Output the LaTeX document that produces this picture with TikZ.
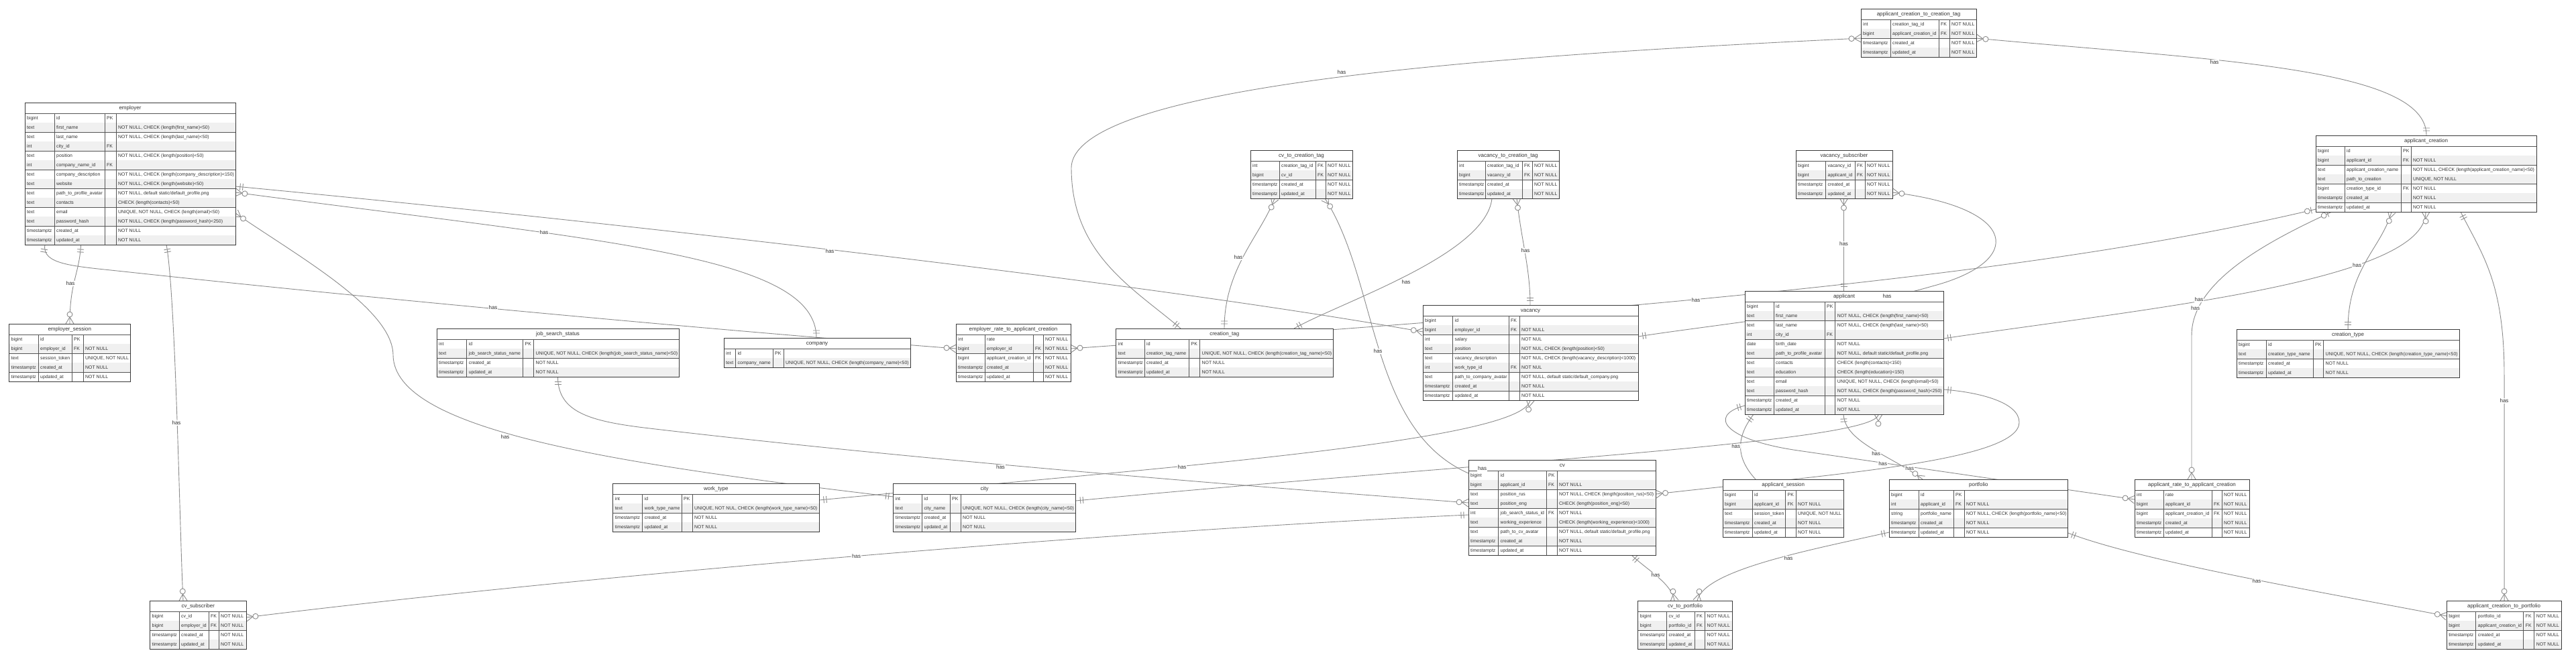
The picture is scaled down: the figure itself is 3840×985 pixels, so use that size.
\documentclass[tikz,border=0pt]{standalone}
\usepackage{fontspec}
\setmainfont{Liberation Sans}
\usetikzlibrary{calc,decorations.markings}
\pgfdeclarelayer{bg}\pgfdeclarelayer{fg}\pgfsetlayers{bg,main,fg}
\definecolor{rowgray}{HTML}{F0F0F0}
\definecolor{bordc}{HTML}{3A3A3A}
\definecolor{gridc}{HTML}{555555}
\definecolor{txtc}{HTML}{333333}
\definecolor{linec}{HTML}{8C8C8C}
\tikzset{
 tablebox/.style={fill=white,draw=none,inner sep=0pt,outer sep=0pt,anchor=north west},
 cell/.style={anchor=west,inner sep=0pt,text=txtc,font=\fontsize{6.9}{8}\selectfont,text height=6.5pt,text depth=1.7pt},
 ttlcell/.style={inner sep=0pt,text=txtc,font=\fontsize{8}{9}\selectfont,text height=7.5pt,text depth=1.8pt},
 grid/.style={draw=gridc,line width=0.7pt},
 tborder/.style={draw=bordc,line width=1pt},
 rel/.style={draw=linec,line width=0.9pt},
 mk/.style={draw=linec,line width=0.9pt},
 lbl/.style={fill=white,inner sep=0.8pt,text=txtc,font=\fontsize{8}{9}\selectfont},
 oneS/.style={postaction={decorate,decoration={markings,mark=at position 0 with {\draw[mk] (7pt,-5pt)--(7pt,5pt) (11pt,-5pt)--(11pt,5pt);}}}},
 oneE/.style={postaction={decorate,decoration={markings,mark=at position 0.99999 with {\draw[mk] (-7pt,-5pt)--(-7pt,5pt) (-11pt,-5pt)--(-11pt,5pt);}}}},
 manyS/.style={postaction={decorate,decoration={markings,mark=at position 0 with {\draw[mk] (0pt,-6pt)--(10pt,0pt)--(0pt,6pt); \draw[mk,fill=white] (14pt,0pt) circle[radius=4pt];}}}},
 manyE/.style={postaction={decorate,decoration={markings,mark=at position 0.99999 with {\draw[mk] (0pt,-6pt)--(-10pt,0pt)--(0pt,6pt); \draw[mk,fill=white] (-14pt,0pt) circle[radius=4pt];}}}},
 zoE/.style={postaction={decorate,decoration={markings,mark=at position 0.99999 with {\draw[mk] (-7pt,-5pt)--(-7pt,5pt); \draw[mk,fill=white] (-13pt,0pt) circle[radius=4pt];}}}},
}
\newcommand\tbl[9]{%
 \def\tn{#1}\def\tx{#2}\def\ty{#3}\def\ca{#4}\def\cb{#5}\def\cc{#6}\def\tw{#7}%
 \pgfmathsetmacro\tb{#3+16+14*#8}%
 \pgfmathsetmacro\twd{#7-#2}\pgfmathsetmacro\tht{\tb-#3}%
 \node[tablebox,minimum width=\twd pt,minimum height=\tht pt] (#1) at (#2,#3) {};%
 \node[ttlcell] (#1-t) at ({(#2+#7)/2},#3+8) {#9};%
 \draw[grid] (#2,#3+16) -- (#7,#3+16);%
}
\newcommand\trow[5]{%
 \pgfmathsetmacro\ra{\ty+16+14*(#1-1)}%
 \pgfmathsetmacro\rb{\ra+14}%
 \ifodd#1\relax\else\fill[rowgray] (\tx,\ra) rectangle (\tw,\rb);\fi
 \draw[grid] (\tx,\rb) -- (\tw,\rb) (\ca,\ra) -- (\ca,\rb) (\cb,\ra) -- (\cb,\rb) (\cc,\ra) -- (\cc,\rb);%
 \node[cell] (\tn-#1a) at (\tx+3,\ra+7) {#2};%
 \node[cell] (\tn-#1b) at (\ca+3,\ra+7) {#3};%
 \node[cell] (\tn-#1c) at (\cb+3,\ra+7) {#4};%
 \node[cell] (\tn-#1d) at (\cc+3,\ra+7) {#5};%
}
\newcommand\tend{\draw[tborder] (\tn.north west) rectangle (\tn.south east);}
\begin{document}
\begin{tikzpicture}[x=1pt,y=-1pt]
\begin{pgfonlayer}{bg}
\fill[white] (0,0) rectangle (3840,985);
\end{pgfonlayer}
\useasboundingbox (0,0) rectangle (3840,985);

% ---------------- tables ----------------
\tbl{emp}{37}{153}{81}{156}{173}{351}{14}{employer}
\trow{1}{bigint}{id}{PK}{}
\trow{2}{text}{first\_name}{}{NOT NULL, CHECK (length(first\_name)<50)}
\trow{3}{text}{last\_name}{}{NOT NULL, CHECK (length(last\_name)<50)}
\trow{4}{int}{city\_id}{FK}{}
\trow{5}{text}{position}{}{NOT NULL, CHECK (length(position)<50)}
\trow{6}{int}{company\_name\_id}{FK}{}
\trow{7}{text}{company\_description}{}{NOT NULL, CHECK (length(company\_description)<150)}
\trow{8}{text}{website}{}{NOT NULL, CHECK (length(website)<50)}
\trow{9}{text}{path\_to\_profile\_avatar}{}{NOT NULL, default static/default\_profile.png}
\trow{10}{text}{contacts}{}{CHECK (length(contacts)<50)}
\trow{11}{text}{email}{}{UNIQUE, NOT NULL, CHECK (length(email)<50)}
\trow{12}{text}{password\_hash}{}{NOT NULL, CHECK (length(password\_hash)<250)}
\trow{13}{timestamptz}{created\_at}{}{NOT NULL}
\trow{14}{timestamptz}{updated\_at}{}{NOT NULL}
\tend

\tbl{empses}{13.5}{483}{57}{107}{124}{194}{5}{employer\_session}
\trow{1}{bigint}{id}{PK}{}
\trow{2}{bigint}{employer\_id}{FK}{NOT NULL}
\trow{3}{text}{session\_token}{}{UNIQUE, NOT NULL}
\trow{4}{timestamptz}{created\_at}{}{NOT NULL}
\trow{5}{timestamptz}{updated\_at}{}{NOT NULL}
\tend

\tbl{jss}{651}{490}{695.6}{779.5}{795.5}{1012}{4}{job\_search\_status}
\trow{1}{int}{id}{PK}{}
\trow{2}{text}{job\_search\_status\_name}{}{UNIQUE, NOT NULL, CHECK (length(job\_search\_status\_name)<50)}
\trow{3}{timestamptz}{created\_at}{}{NOT NULL}
\trow{4}{timestamptz}{updated\_at}{}{NOT NULL}
\tend

\tbl{company}{1079}{504}{1096.5}{1152}{1168}{1357}{2}{company}
\trow{1}{int}{id}{PK}{}
\trow{2}{text}{company\_name}{}{UNIQUE, NOT NULL, CHECK (length(company\_name)<50)}
\tend

\tbl{emprate}{1425}{483}{1468}{1540}{1555}{1596}{5}{employer\_rate\_to\_applicant\_creation}
\trow{1}{int}{rate}{}{NOT NULL}
\trow{2}{bigint}{employer\_id}{FK}{NOT NULL}
\trow{3}{bigint}{applicant\_creation\_id}{FK}{NOT NULL}
\trow{4}{timestamptz}{created\_at}{}{NOT NULL}
\trow{5}{timestamptz}{updated\_at}{}{NOT NULL}
\tend

\tbl{ctag}{1663.5}{490}{1706}{1772.5}{1788.5}{1987}{4}{creation\_tag}
\trow{1}{int}{id}{PK}{}
\trow{2}{text}{creation\_tag\_name}{}{UNIQUE, NOT NULL, CHECK (length(creation\_tag\_name)<50)}
\trow{3}{timestamptz}{created\_at}{}{NOT NULL}
\trow{4}{timestamptz}{updated\_at}{}{NOT NULL}
\tend

\tbl{cvtag}{1864}{224}{1907}{1961}{1976}{2016}{4}{cv\_to\_creation\_tag}
\trow{1}{int}{creation\_tag\_id}{FK}{NOT NULL}
\trow{2}{bigint}{cv\_id}{FK}{NOT NULL}
\trow{3}{timestamptz}{created\_at}{}{NOT NULL}
\trow{4}{timestamptz}{updated\_at}{}{NOT NULL}
\tend

\tbl{vactag}{2172}{224}{2214}{2269}{2284}{2324}{4}{vacancy\_to\_creation\_tag}
\trow{1}{int}{creation\_tag\_id}{FK}{NOT NULL}
\trow{2}{bigint}{vacancy\_id}{FK}{NOT NULL}
\trow{3}{timestamptz}{created\_at}{}{NOT NULL}
\trow{4}{timestamptz}{updated\_at}{}{NOT NULL}
\tend

\tbl{vacsub}{2677}{224}{2721.5}{2765}{2780}{2821}{4}{vacancy\_subscriber}
\trow{1}{bigint}{vacancy\_id}{FK}{NOT NULL}
\trow{2}{bigint}{applicant\_id}{FK}{NOT NULL}
\trow{3}{timestamptz}{created\_at}{}{NOT NULL}
\trow{4}{timestamptz}{updated\_at}{}{NOT NULL}
\tend

\tbl{actag}{2774}{13}{2818}{2890}{2906}{2946}{4}{applicant\_creation\_to\_creation\_tag}
\trow{1}{int}{creation\_tag\_id}{FK}{NOT NULL}
\trow{2}{bigint}{applicant\_creation\_id}{FK}{NOT NULL}
\trow{3}{timestamptz}{created\_at}{}{NOT NULL}
\trow{4}{timestamptz}{updated\_at}{}{NOT NULL}
\tend

\tbl{acre}{3452}{202}{3495}{3579}{3594}{3781}{7}{applicant\_creation}
\trow{1}{bigint}{id}{PK}{}
\trow{2}{bigint}{applicant\_id}{FK}{NOT NULL}
\trow{3}{text}{applicant\_creation\_name}{}{NOT NULL, CHECK (length(applicant\_creation\_name)<50)}
\trow{4}{text}{path\_to\_creation}{}{UNIQUE, NOT NULL}
\trow{5}{bigint}{creation\_type\_id}{FK}{NOT NULL}
\trow{6}{timestamptz}{created\_at}{}{NOT NULL}
\trow{7}{timestamptz}{updated\_at}{}{NOT NULL}
\tend

\tbl{vacancy}{2121}{455}{2165.5}{2249}{2265}{2442}{9}{vacancy}
\trow{1}{bigint}{id}{FK}{}
\trow{2}{bigint}{employer\_id}{FK}{NOT NULL}
\trow{3}{int}{salary}{}{NOT NUL}
\trow{4}{text}{position}{}{NOT NUL, CHECK (length(position)<50)}
\trow{5}{text}{vacancy\_description}{}{NOT NUL, CHECK (length(vacancy\_description)<1000)}
\trow{6}{int}{work\_type\_id}{FK}{NOT NUL}
\trow{7}{text}{path\_to\_company\_avatar}{}{NOT NULL, default static/default\_company.png}
\trow{8}{timestamptz}{created\_at}{}{NOT NULL}
\trow{9}{timestamptz}{updated\_at}{}{NOT NULL}
\tend

\tbl{applicant}{2601}{434}{2644}{2720}{2735.6}{2897}{12}{applicant}
\trow{1}{bigint}{id}{PK}{}
\trow{2}{text}{first\_name}{}{NOT NULL, CHECK (length(first\_name)<50)}
\trow{3}{text}{last\_name}{}{NOT NULL, CHECK (length(last\_name)<50)}
\trow{4}{int}{city\_id}{FK}{}
\trow{5}{date}{birth\_date}{}{NOT NULL}
\trow{6}{text}{path\_to\_profile\_avatar}{}{NOT NULL, default static/default\_profile.png}
\trow{7}{text}{contacts}{}{CHECK (length(contacts)<150)}
\trow{8}{text}{education}{}{CHECK (length(education)<150)}
\trow{9}{text}{email}{}{UNIQUE, NOT NULL, CHECK (length(email)<50)}
\trow{10}{text}{password\_hash}{}{NOT NULL, CHECK (length(password\_hash)<250)}
\trow{11}{timestamptz}{created\_at}{}{NOT NULL}
\trow{12}{timestamptz}{updated\_at}{}{NOT NULL}
\tend

\tbl{ctype}{3334}{491}{3378}{3448}{3463.5}{3666}{4}{creation\_type}
\trow{1}{bigint}{id}{PK}{}
\trow{2}{text}{creation\_type\_name}{}{UNIQUE, NOT NULL, CHECK (length(creation\_type\_name)<50)}
\trow{3}{timestamptz}{created\_at}{}{NOT NULL}
\trow{4}{timestamptz}{updated\_at}{}{NOT NULL}
\tend

\tbl{cvsub}{223.5}{896}{267}{311}{326}{367}{4}{cv\_subscriber}
\trow{1}{bigint}{cv\_id}{FK}{NOT NULL}
\trow{2}{bigint}{employer\_id}{FK}{NOT NULL}
\trow{3}{timestamptz}{created\_at}{}{NOT NULL}
\trow{4}{timestamptz}{updated\_at}{}{NOT NULL}
\tend

\tbl{worktype}{913.6}{721}{957.6}{1016}{1032}{1221}{4}{work\_type}
\trow{1}{int}{id}{PK}{}
\trow{2}{text}{work\_type\_name}{}{UNIQUE, NOT NUL, CHECK (length(work\_type\_name)<50)}
\trow{3}{timestamptz}{created\_at}{}{NOT NULL}
\trow{4}{timestamptz}{updated\_at}{}{NOT NULL}
\tend

\tbl{city}{1331.6}{721}{1374.5}{1416}{1432}{1603.5}{4}{city}
\trow{1}{int}{id}{PK}{}
\trow{2}{text}{city\_name}{}{UNIQUE, NOT NULL, CHECK (length(city\_name)<50)}
\trow{3}{timestamptz}{created\_at}{}{NOT NULL}
\trow{4}{timestamptz}{updated\_at}{}{NOT NULL}
\tend

\tbl{cv}{2189}{686}{2233.5}{2305}{2321}{2468.6}{9}{cv}
\trow{1}{bigint}{id}{PK}{}
\trow{2}{bigint}{applicant\_id}{FK}{NOT NULL}
\trow{3}{text}{position\_rus}{}{NOT NULL, CHECK (length(position\_rus)<50)}
\trow{4}{text}{position\_eng}{}{CHECK (length(position\_eng)<50)}
\trow{5}{int}{job\_search\_status\_id}{FK}{NOT NULL}
\trow{6}{text}{working\_experience}{}{CHECK (length(working\_experience)<1000)}
\trow{7}{text}{path\_to\_cv\_avatar}{}{NOT NULL, default static/default\_profile.png}
\trow{8}{timestamptz}{created\_at}{}{NOT NULL}
\trow{9}{timestamptz}{updated\_at}{}{NOT NULL}
\tend

\tbl{appses}{2568}{715}{2612}{2661.5}{2677}{2748.5}{5}{applicant\_session}
\trow{1}{bigint}{id}{PK}{}
\trow{2}{bigint}{applicant\_id}{FK}{NOT NULL}
\trow{3}{text}{session\_token}{}{UNIQUE, NOT NULL}
\trow{4}{timestamptz}{created\_at}{}{NOT NULL}
\trow{5}{timestamptz}{updated\_at}{}{NOT NULL}
\tend

\tbl{portfolio}{2816}{715}{2860}{2912}{2928}{3082.7}{5}{portfolio}
\trow{1}{bigint}{id}{PK}{}
\trow{2}{int}{applicant\_id}{FK}{NOT NULL}
\trow{3}{string}{portfolio\_name}{}{NOT NULL, CHECK (length(portfolio\_name)<50)}
\trow{4}{timestamptz}{created\_at}{}{NOT NULL}
\trow{5}{timestamptz}{updated\_at}{}{NOT NULL}
\tend

\tbl{apprate}{3182}{715}{3225}{3297}{3312}{3353}{5}{applicant\_rate\_to\_applicant\_creation}
\trow{1}{int}{rate}{}{NOT NULL}
\trow{2}{bigint}{applicant\_id}{FK}{NOT NULL}
\trow{3}{bigint}{applicant\_creation\_id}{FK}{NOT NULL}
\trow{4}{timestamptz}{created\_at}{}{NOT NULL}
\trow{5}{timestamptz}{updated\_at}{}{NOT NULL}
\tend

\tbl{cvport}{2441.7}{896}{2484.5}{2526}{2541.5}{2582.5}{4}{cv\_to\_portfolio}
\trow{1}{bigint}{cv\_id}{FK}{NOT NULL}
\trow{2}{bigint}{portfolio\_id}{FK}{NOT NULL}
\trow{3}{timestamptz}{created\_at}{}{NOT NULL}
\trow{4}{timestamptz}{updated\_at}{}{NOT NULL}
\tend

\tbl{acport}{3647}{896}{3690.6}{3761.6}{3777.6}{3818}{4}{applicant\_creation\_to\_portfolio}
\trow{1}{bigint}{portfolio\_id}{FK}{NOT NULL}
\trow{2}{bigint}{applicant\_creation\_id}{FK}{NOT NULL}
\trow{3}{timestamptz}{created\_at}{}{NOT NULL}
\trow{4}{timestamptz}{updated\_at}{}{NOT NULL}
\tend

% ---------------- connectors ----------------
\begin{pgfonlayer}{bg}
\draw[rel,manyS,oneE] (emp.east |- 0,318) .. controls (440,380) and (586,460) .. (586,530) .. controls (588,640) and (900,690) .. (city.west |- 0,741);
\draw[rel,manyS,oneE] (emp.east |- 0,287) .. controls (900,360) and (1217,380) .. (company.north -| 1217,0);
\draw[rel,oneS,manyE] (emp.south -| 120.6,0) .. controls (118,410) and (104,420) .. (empses.north -| 104,0);
\draw[rel,manyS,oneE] (cvsub.east |- 0,921) .. controls (900,855) and (1700,790) .. (cv.west |- 0,768);
\draw[rel,oneS,manyE] (emp.south -| 248,0) .. controls (262,440) and (268,800) .. (cvsub.north -| 273,0);
\draw[rel,oneS,manyE] (emp.south -| 67,0) .. controls (62,395) and (110,397) .. (184,405) .. controls (600,450) and (1100,495) .. (emprate.west |- 0,520);
\draw[rel,manyS,zoE] (emprate.east |- 0,520) .. controls (2300,470) and (3000,420) .. (acre.west |- 0,312);
\draw[rel,oneS,manyE] (emp.east |- 0,278) .. controls (900,330) and (1700,420) .. (vacancy.west |- 0,495);
\draw[rel,manyS,oneE] (vacancy.south -| 2281,0) .. controls (2270,660) and (1700,700) .. (worktype.east |- 0,746);
\draw[rel,oneS,manyE] (ctag.north -| 1929,0) .. controls (2000,450) and (2215,380) .. (vactag.south -| 2224,0);
\draw[rel,manyS,oneE] (vactag.south -| 2261,0) .. controls (2268,360) and (2281,400) .. (vacancy.north -| 2281,0);
\draw[rel,manyS,oneE] (cvtag.south -| 1900,0) .. controls (1880,350) and (1825,400) .. (ctag.north -| 1825,0);
\draw[rel,manyS,oneE] (cvtag.south -| 1975,0) .. controls (2055,420) and (2040,640) .. (cv.west |- 0,706);
\draw[rel,manyS,oneE] (vacsub.east |- 0,287) .. controls (3010,310) and (3020,390) .. (2880,427) .. controls (2750,465) and (2550,485) .. (vacancy.east |- 0,502);
\draw[rel,manyS,oneE] (vacsub.south -| 2748.5,0) -- (applicant.north -| 2748.5,0);
\draw[rel,oneS,manyE] (city.east |- 0,747) .. controls (2200,690) and (2800,660) .. (applicant.south -| 2800,0);
\draw[rel,oneS,manyE] (applicant.south -| 2614,0) .. controls (2590,650) and (2585,680) .. (appses.north -| 2617,0);
\draw[rel,manyS,oneE] (cv.east |- 0,737) .. controls (2700,710) and (3010,690) .. (3010,630) .. controls (3010,600) and (2950,585) .. (applicant.east |- 0,581);
\draw[rel,oneS,manyE] (jss.south -| 831.5,0) .. controls (831.5,615) and (880,628) .. (960,638) .. controls (1400,690) and (1900,728) .. (cv.west |- 0,750);
\draw[rel,oneS,manyE] (applicant.south -| 2748,0) .. controls (2750,660) and (2820,680) .. (portfolio.north -| 2866,0);
\draw[rel,oneS,manyE] (cv.south -| 2432,0) .. controls (2455,850) and (2492,870) .. (cvport.north -| 2496,0);
\draw[rel,manyS,oneE] (cvport.north -| 2530,0) .. controls (2540,850) and (2700,820) .. (portfolio.west |- 0,794);
\draw[rel,oneS,manyE] (applicant.east |- 0,505) .. controls (3200,460) and (3616,420) .. (acre.south -| 3616,0);
\draw[rel,manyS,oneE] (acre.south -| 3565,0) .. controls (3550,370) and (3500,400) .. (ctype.north -| 3500,0);
\draw[rel,manyS,oneE] (actag.west |- 0,57) .. controls (2300,80) and (1600,120) .. (1597,250) .. controls (1597,380) and (1690,430) .. (ctag.north -| 1760,0);
\draw[rel,manyS,oneE] (actag.east |- 0,57) .. controls (3300,90) and (3617,100) .. (acre.north -| 3617,0);
\draw[rel,oneS,manyE] (applicant.west |- 0,605) .. controls (2545,620) and (2570,656) .. (2680,672) -- (apprate.west |- 0,745);
\draw[rel,manyS,zoE] (apprate.north -| 3267,0) -- (3267,500) .. controls (3267,420) and (3380,360) .. (acre.south -| 3476,0);
\draw[rel,oneS,manyE] (portfolio.east |- 0,795) .. controls (3200,840) and (3500,890) .. (acport.west |- 0,919);
\draw[rel,oneS,manyE] (acre.south -| 3668,0) .. controls (3700,380) and (3733,420) .. (3733,560) -- (acport.north -| 3733,0);
\end{pgfonlayer}

% ---------------- labels ----------------
\begin{pgfonlayer}{fg}
\node[lbl] (h1) at (753,652) {has};
\node[lbl] (h2) at (811,347) {has};
\node[lbl] (h3) at (105,423) {has};
\node[lbl] (h4) at (1276.6,829.7) {has};
\node[lbl] (h5) at (263,631) {has};
\node[lbl] (h6) at (735,459) {has};
\node[lbl] (h7) at (2528,448) {has};
\node[lbl] (h8) at (1237,375) {has};
\node[lbl] (h9) at (1762,697) {has};
\node[lbl] (h10) at (2096,421) {has};
\node[lbl] (h11) at (2274,374) {has};
\node[lbl] (h12) at (1846,384) {has};
\node[lbl] (h13) at (2054,524) {has};
\node[lbl] (h14) at (2813,442) {has};
\node[lbl] (h15) at (2748.5,364) {has};
\node[lbl] (h16) at (2209.6,699) {has};
\node[lbl] (h17) at (2587.7,665.7) {has};
\node[lbl] (h18) at (2846.7,698.3) {has};
\node[lbl] (h19) at (1491.5,697) {has};
\node[lbl] (h20) at (2796.7,676.7) {has};
\node[lbl] (h21) at (2468,857.7) {has};
\node[lbl] (h22) at (2666,832.7) {has};
\node[lbl] (h23) at (3278,447) {has};
\node[lbl] (h24) at (3513.6,396) {has};
\node[lbl] (h25) at (2000,108) {has};
\node[lbl] (h26) at (3301,93) {has};
\node[lbl] (h27) at (2806.7,691.7) {has};
\node[lbl] (h28) at (3272.6,459.7) {has};
\node[lbl] (h29) at (3364,867) {has};
\node[lbl] (h30) at (3733,598) {has};
\end{pgfonlayer}
\end{tikzpicture}
\end{document}
